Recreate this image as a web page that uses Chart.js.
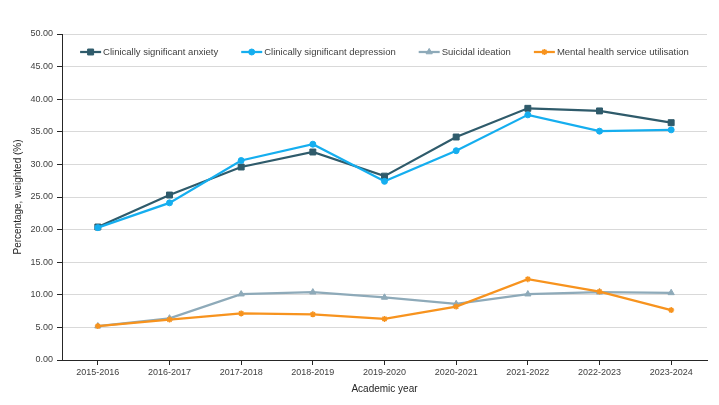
<!DOCTYPE html>
<html>
<head>
<meta charset="utf-8">
<script src="https://cdn.jsdelivr.net/npm/chart.js"></script>
<style>
  html, body { margin: 0; padding: 0; background: #fff; }
  #wrap { width: 719px; height: 405px; }
</style>
</head>
<body>
<div id="wrap"><canvas id="chart" width="719" height="405"></canvas></div>
<script>
const years = ['2015-2016', '2016-2017', '2017-2018', '2018-2019', '2019-2020', '2020-2021', '2021-2022', '2022-2023', '2023-2024'];
const anxiety = [20.4, 25.3, 29.6, 31.9, 28.2, 34.2, 38.6, 38.2, 36.4];
const depression = [20.3, 24.1, 30.6, 33.1, 27.4, 32.1, 37.6, 35.1, 35.3];
const suicidal = [5.2, 6.4, 10.1, 10.4, 9.6, 8.6, 10.1, 10.4, 10.3];
const serviceUse = [5.2, 6.2, 7.15, 7.0, 6.3, 8.2, 12.4, 10.5, 7.65];
const yTicks = [0, 5, 10, 15, 20, 25, 30, 35, 40, 45, 50];

const FONT = "'Liberation Sans', Arial, sans-serif";

function series(label, data, color, style, radius, order) {
  return {
    label, data, order,
    borderColor: color,
    backgroundColor: color,
    pointBackgroundColor: color,
    pointBorderColor: color,
    borderWidth: 2.25,
    pointStyle: style,
    pointRadius: radius,
    pointBorderWidth: style === 'star' ? 1.5 : 1,
    tension: 0,
  };
}

// legend drawn inside the plot, line + marker like the original
const insideLegend = {
  id: 'insideLegend',
  afterDraw(chart) {
    const { ctx, chartArea } = chart;
    const sets = chart.data.datasets;
    const lineW = 21, gapText = 2, gapItem = 23, y = 52;
    ctx.save();
    ctx.font = '9.5px ' + FONT;
    const widths = sets.map(d => lineW + gapText + ctx.measureText(d.label).width);
    const total = widths.reduce((a, b) => a + b, 0) + gapItem * (sets.length - 1);
    let x = (chartArea.left + chartArea.right) / 2 - total / 2;
    sets.forEach((d, i) => {
      ctx.strokeStyle = d.borderColor;
      ctx.fillStyle = d.borderColor;
      ctx.lineWidth = 2.25;
      ctx.beginPath();
      ctx.moveTo(x, y);
      ctx.lineTo(x + lineW, y);
      ctx.stroke();
      ctx.lineWidth = d.pointBorderWidth;
      Chart.helpers.drawPoint(ctx, { pointStyle: d.pointStyle, radius: d.pointRadius, rotation: 0, borderWidth: d.pointBorderWidth }, x + lineW / 2, y);
      ctx.fillStyle = '#404040';
      ctx.textBaseline = 'middle';
      ctx.fillText(d.label, x + lineW + gapText, y + 0.5);
      x += widths[i] + gapItem;
    });
    ctx.restore();
  }
};

new Chart(document.getElementById('chart'), {
  type: 'line',
  data: {
    labels: years,
    datasets: [
      series('Clinically significant anxiety', anxiety, '#2F5B6B', 'rect', 4.2, 4),
      series('Clinically significant depression', depression, '#15AEEF', 'circle', 3, 3),
      series('Suicidal ideation', suicidal, '#8EAAB9', 'triangle', 3.6, 2),
      series('Mental health service utilisation', serviceUse, '#F7931E', 'star', 3, 1),
    ],
  },
  options: {
    responsive: false,
    animation: false,
    layout: { padding: { top: 34, right: 12, left: 0, bottom: 0 } },
    plugins: {
      legend: { display: false },
      tooltip: { enabled: false },
    },
    scales: {
      x: {
        offset: true,
        grid: { display: true, drawOnChartArea: false, offset: false, tickLength: 5, tickColor: '#262626' },
        border: { color: '#262626', width: 1 },
        ticks: { color: '#404040', font: { family: FONT, size: 9 }, padding: 2, maxRotation: 0 },
        title: { display: true, text: 'Academic year', color: '#262626', font: { family: FONT, size: 10 }, padding: { top: 4, bottom: 10 } },
        afterFit(scale) { scale.height = 45; },
      },
      y: {
        min: 0,
        max: 50,
        afterBuildTicks(scale) { scale.ticks = yTicks.map(v => ({ value: v })); },
        grid: { color: '#D9D9D9', lineWidth: 1, tickLength: 5, tickColor: '#262626' },
        border: { color: '#262626', width: 1 },
        ticks: { color: '#404040', font: { family: FONT, size: 9 }, padding: 4, callback: v => v.toFixed(2) },
        title: { display: true, text: 'Percentage, weighted (%)', color: '#262626', font: { family: FONT, size: 10 }, padding: { top: 12, bottom: 4 } },
        afterFit(scale) { scale.width = 62; },
      },
    },
  },
  plugins: [insideLegend],
});
</script>
</body>
</html>
